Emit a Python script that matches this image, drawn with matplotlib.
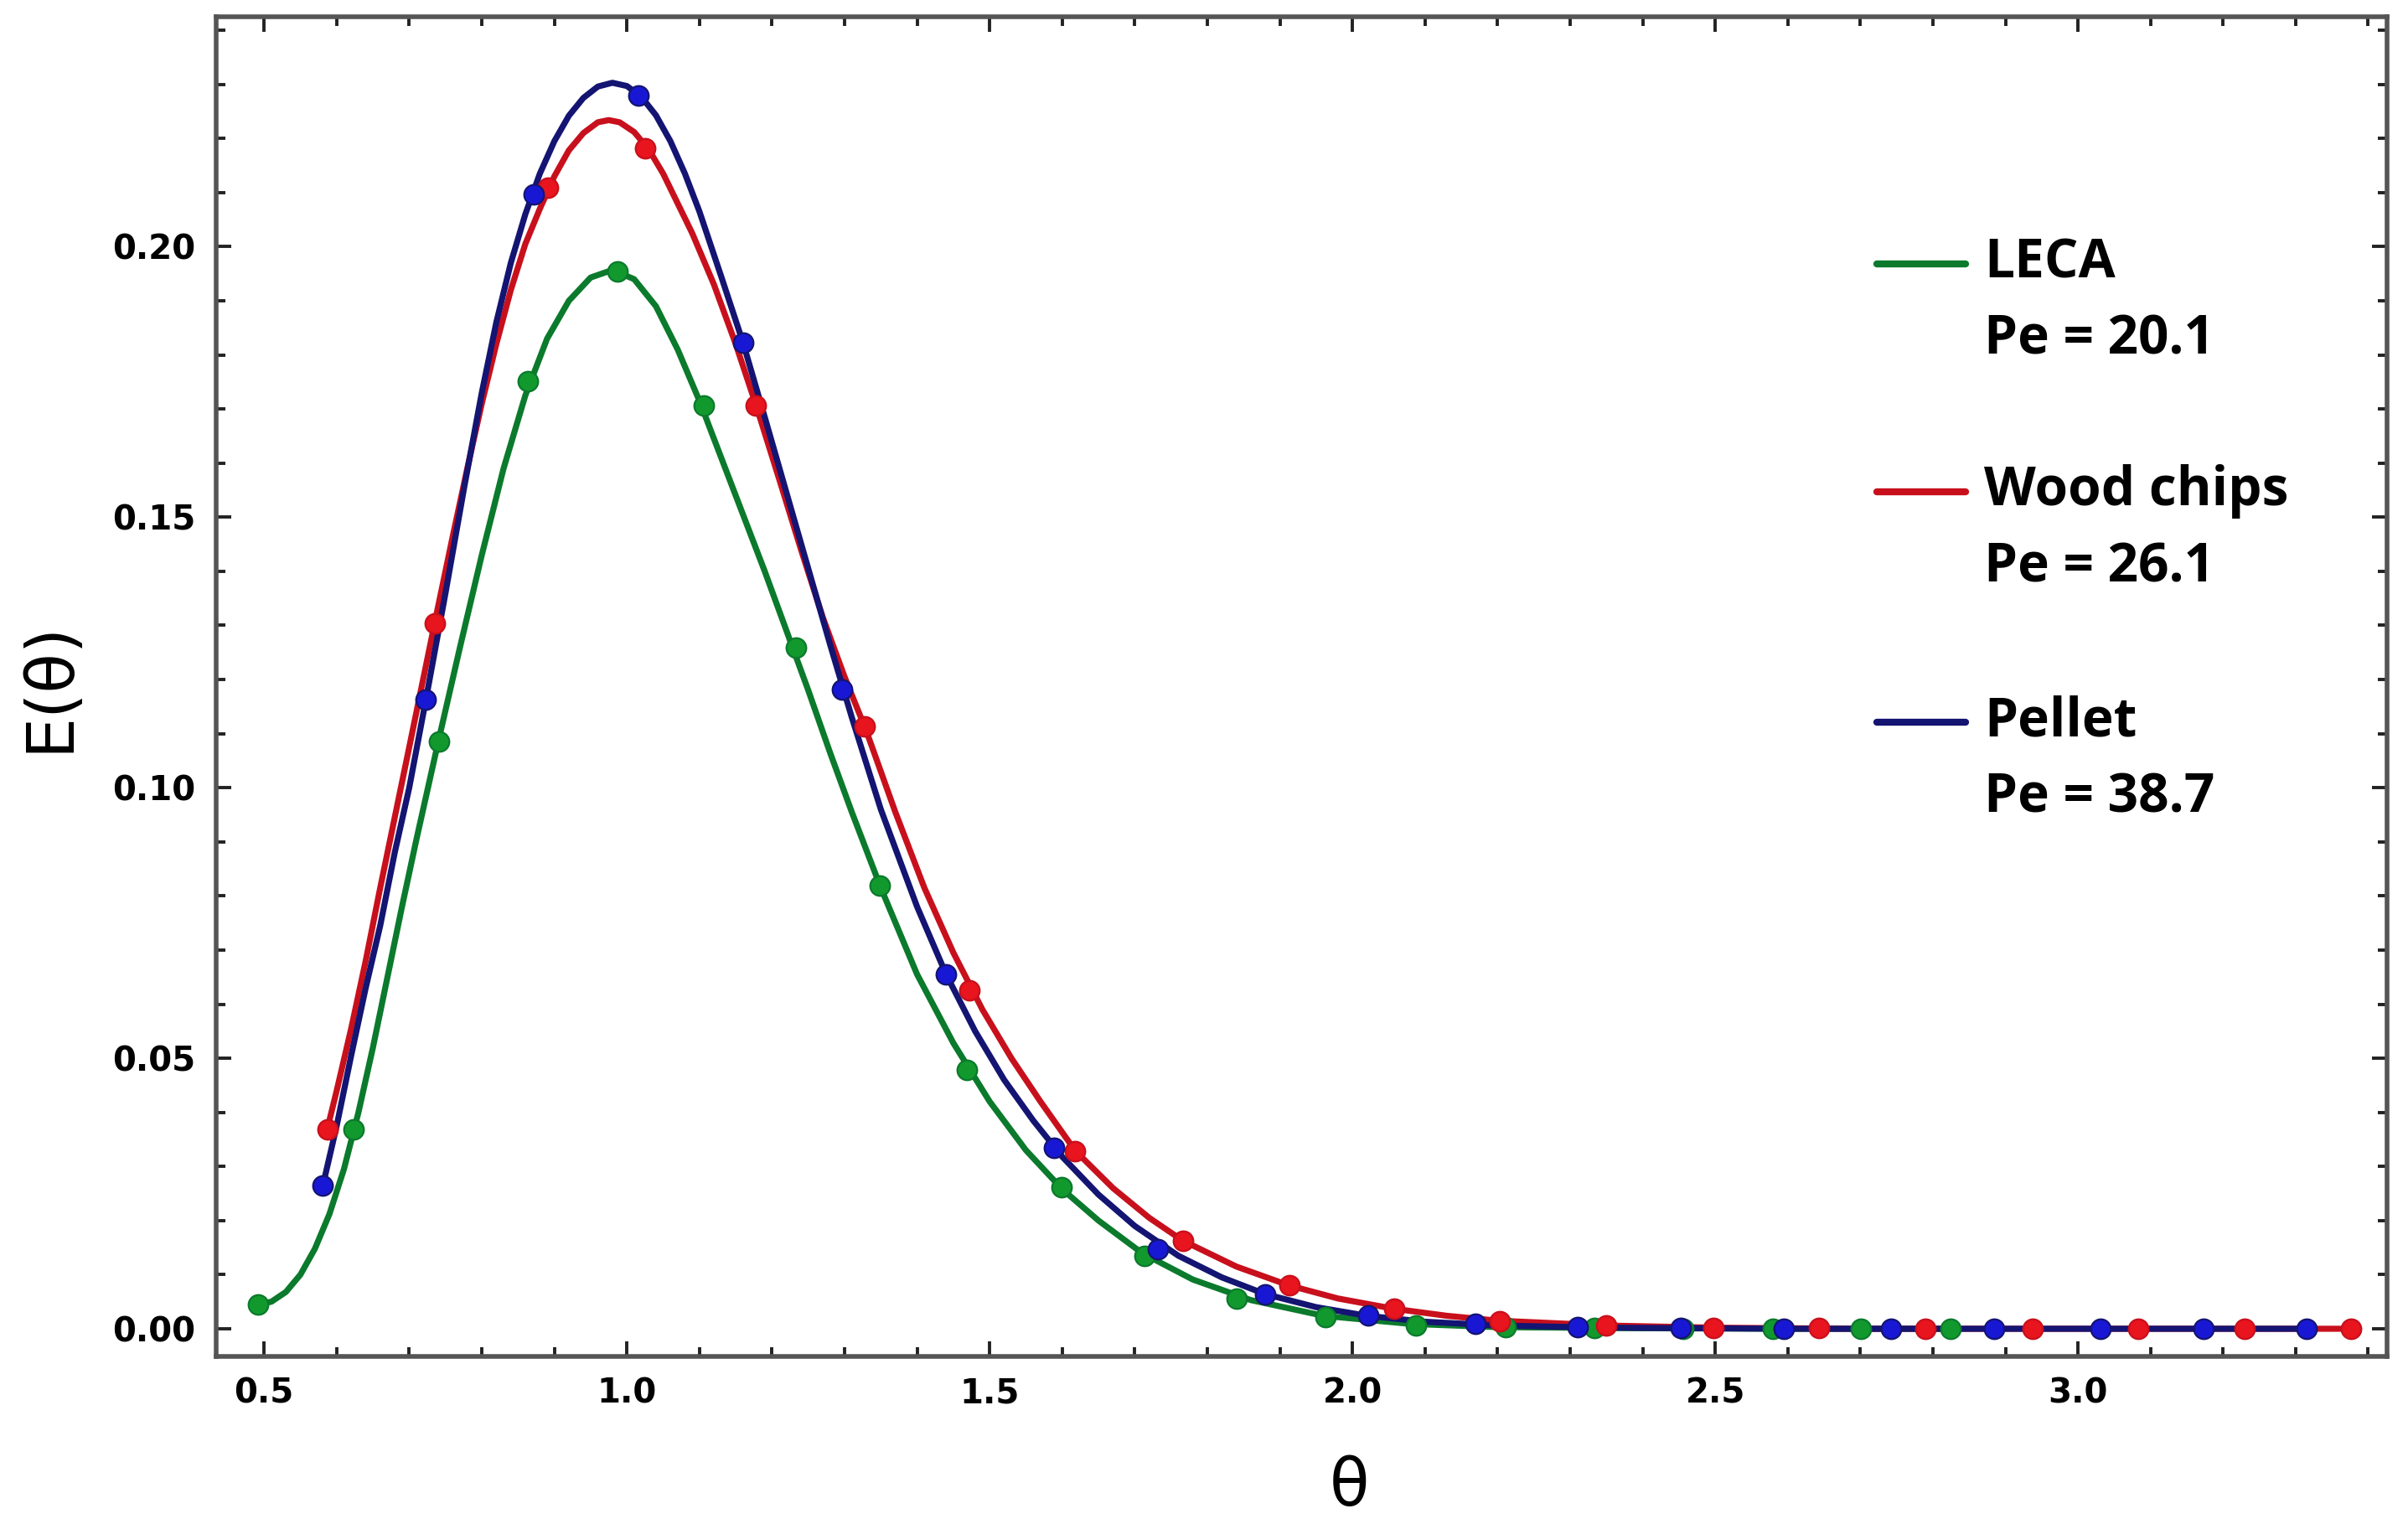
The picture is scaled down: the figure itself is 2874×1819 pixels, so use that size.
import numpy as np
import matplotlib
matplotlib.use('Agg')
import matplotlib.pyplot as plt
from matplotlib.ticker import MultipleLocator, FormatStrFormatter

matplotlib.rcParams.update({'font.family': ['DejaVu Sans']})

leca_x = [0.492, 0.623, 0.741, 0.864, 0.987, 1.106, 1.233, 1.349, 1.469, 1.599,
          1.713, 1.841, 1.963, 2.088, 2.211, 2.333, 2.456, 2.579, 2.701, 2.824]
leca_y = [0.0045, 0.0369, 0.1085, 0.1751, 0.1955, 0.1707, 0.1259, 0.0819, 0.0479, 0.0262,
          0.0134, 0.0056, 0.0021, 0.0006, 0.0003, 0.0001, 0.0, 0.0, 0.0, 0.0]

wood_x = [0.587, 0.735, 0.891, 1.025, 1.178, 1.328, 1.472, 1.618, 1.766, 1.913,
          2.057, 2.203, 2.350, 2.497, 2.643, 2.790, 2.937, 3.083, 3.230, 3.376]
wood_y = [0.0369, 0.1304, 0.2109, 0.2182, 0.1707, 0.1113, 0.0625, 0.0329, 0.0163, 0.0080,
          0.0037, 0.0014, 0.0006, 0.0002, 0.0001, 0.0, 0.0, 0.0, 0.0, 0.0]

pellet_x = [0.581, 0.723, 0.872, 1.016, 1.160, 1.297, 1.440, 1.589, 1.732, 1.880,
            2.022, 2.169, 2.311, 2.453, 2.594, 2.742, 2.884, 3.031, 3.173, 3.315]
pellet_y = [0.0265, 0.1163, 0.2096, 0.2280, 0.1823, 0.1181, 0.0655, 0.0335, 0.0147, 0.0064,
            0.0024, 0.0009, 0.0003, 0.0001, 0.0, 0.0, 0.0, 0.0, 0.0, 0.0]

# fitted model curves
leca_fit_x = [0.492, 0.51, 0.53, 0.55, 0.57, 0.59, 0.61, 0.63, 0.65, 0.67, 0.69, 0.71,
              0.74, 0.77, 0.80, 0.83, 0.86, 0.89, 0.92, 0.95, 0.98, 1.01, 1.04, 1.07,
              1.10, 1.13, 1.16, 1.19, 1.22, 1.25, 1.28, 1.31, 1.35, 1.40, 1.45, 1.50,
              1.55, 1.60, 1.65, 1.71, 1.78, 1.86, 1.96, 2.08, 2.20, 2.40, 2.60, 2.824]
leca_fit_y = [0.0045, 0.0050, 0.0068, 0.0100, 0.0148, 0.0212, 0.0295, 0.0400, 0.0520,
              0.0650, 0.0780, 0.0905, 0.1085, 0.1260, 0.1430, 0.1590, 0.1725, 0.1830,
              0.1900, 0.1943, 0.1957, 0.1940, 0.1890, 0.1810, 0.1715, 0.1610, 0.1505,
              0.1400, 0.1290, 0.1180, 0.1065, 0.0955, 0.0815, 0.0655, 0.0528, 0.0420,
              0.0330, 0.0258, 0.0200, 0.0140, 0.0091, 0.0053, 0.0024, 0.0009, 0.0003,
              0.0001, 0.0, 0.0]

wood_fit_x = [0.587, 0.60, 0.62, 0.64, 0.66, 0.68, 0.70, 0.735, 0.76, 0.78, 0.80, 0.82,
              0.84, 0.86, 0.88, 0.90, 0.92, 0.94, 0.96, 0.975, 0.99, 1.01, 1.03, 1.05,
              1.07, 1.09, 1.12, 1.15, 1.178, 1.21, 1.24, 1.27, 1.30, 1.33, 1.37, 1.41,
              1.45, 1.49, 1.53, 1.57, 1.618, 1.67, 1.72, 1.766, 1.84, 1.913, 1.98, 2.057,
              2.13, 2.20, 2.35, 2.50, 2.70, 3.376]
wood_fit_y = [0.0369, 0.0440, 0.0555, 0.0680, 0.0815, 0.0945, 0.1075, 0.1304, 0.1465,
              0.1590, 0.1710, 0.1820, 0.1920, 0.2005, 0.2070, 0.2130, 0.2178, 0.2210,
              0.2230, 0.2234, 0.2230, 0.2212, 0.2180, 0.2135, 0.2080, 0.2025, 0.1930,
              0.1820, 0.1707, 0.1570, 0.1440, 0.1315, 0.1205, 0.1105, 0.0955, 0.0815,
              0.0695, 0.0590, 0.0500, 0.0420, 0.0329, 0.0260, 0.0205, 0.0163, 0.0115,
              0.0080, 0.0056, 0.0037, 0.0024, 0.0015, 0.0006, 0.0002, 0.0, 0.0]

pellet_fit_x = [0.581, 0.60, 0.62, 0.64, 0.66, 0.68, 0.70, 0.723, 0.75, 0.776, 0.80,
                0.82, 0.84, 0.86, 0.88, 0.90, 0.92, 0.94, 0.96, 0.98, 1.00, 1.02, 1.04,
                1.06, 1.08, 1.10, 1.13, 1.16, 1.19, 1.22, 1.25, 1.28, 1.31, 1.35, 1.40,
                1.44, 1.48, 1.52, 1.56, 1.60, 1.65, 1.70, 1.76, 1.82, 1.88, 1.95, 2.02,
                2.10, 2.20, 2.35, 2.60, 3.315]
pellet_fit_y = [0.0265, 0.0375, 0.0505, 0.0630, 0.0745, 0.0880, 0.1000, 0.1163, 0.1360,
                0.1557, 0.1730, 0.1860, 0.1970, 0.2060, 0.2135, 0.2195, 0.2242, 0.2275,
                0.2296, 0.2303, 0.2297, 0.2277, 0.2243, 0.2195, 0.2135, 0.2065, 0.1945,
                0.1823, 0.1685, 0.1545, 0.1405, 0.1265, 0.1130, 0.0960, 0.0780, 0.0655,
                0.0550, 0.0460, 0.0385, 0.0318, 0.0248, 0.0190, 0.0135, 0.0095, 0.0064,
                0.0040, 0.0024, 0.0013, 0.0006, 0.0002, 0.0, 0.0]

names = ['LECA', 'Wood chips', 'Pellet']
peclet = ['20.1', '26.1', '38.7']
line_colors = ['#0b7a2c', '#c8101c', '#141472']
marker_colors = ['#12992e', '#e8141e', '#1818d4']

fig = plt.figure(figsize=(14.37, 9.095), dpi=200)
ax = fig.add_axes([0.0898, 0.110, 0.9015, 0.879])

series = [(leca_x, leca_y, leca_fit_x, leca_fit_y),
          (wood_x, wood_y, wood_fit_x, wood_fit_y),
          (pellet_x, pellet_y, pellet_fit_x, pellet_fit_y)]

for i, (mx, my, fx, fy) in enumerate(series):
    ax.plot(fx, fy, color=line_colors[i], linewidth=2.6, solid_joinstyle='round',
            solid_capstyle='round', zorder=2 + i)
    ax.plot(mx, my, linestyle='none', marker='o', markersize=8.5,
            markerfacecolor=marker_colors[i], markeredgecolor=line_colors[i],
            markeredgewidth=0.8, zorder=5 + i)

ax.set_xlim(0.434, 3.426)
ax.set_ylim(-0.0051, 0.2425)

ax.xaxis.set_major_locator(MultipleLocator(0.5))
ax.xaxis.set_minor_locator(MultipleLocator(0.1))
ax.yaxis.set_major_locator(MultipleLocator(0.05))
ax.yaxis.set_minor_locator(MultipleLocator(0.01))
ax.xaxis.set_major_formatter(FormatStrFormatter('%.1f'))
ax.yaxis.set_major_formatter(FormatStrFormatter('%.2f'))

ax.tick_params(which='both', direction='in', top=True, right=True,
               color='#222222', width=1.4, labelsize=14.5, pad=9)
ax.tick_params(which='major', length=6.5)
ax.tick_params(which='minor', length=3.8)
for lab in ax.get_xticklabels() + ax.get_yticklabels():
    lab.set_fontweight('bold')
for s in ax.spines.values():
    s.set_color('#555555')
    s.set_linewidth(2.0)

ax.set_xlabel('θ', fontsize=28)
ax.set_ylabel('E(θ)', fontsize=28)
ax.xaxis.set_label_coords(0.522, -0.074)
ax.yaxis.set_label_coords(-0.062, 0.5)

# legend drawn by hand at the right side
name_y = [0.8155, 0.6454, 0.4734]
for i in range(3):
    ax.plot([0.765, 0.806], [name_y[i], name_y[i]], transform=ax.transAxes,
            color=line_colors[i], linewidth=3.0, solid_capstyle='round')
    ax.text(0.8144, name_y[i], names[i], transform=ax.transAxes, fontsize=23,
            fontweight='bold', family=['Open Sans', 'DejaVu Sans'], va='center', ha='left')
    ax.text(0.8144, name_y[i] - 0.057, 'Pe = ' + peclet[i], transform=ax.transAxes,
            fontsize=23, fontweight='bold', family=['Open Sans', 'DejaVu Sans'],
            va='center', ha='left')

fig.savefig('out.png', dpi=200)
